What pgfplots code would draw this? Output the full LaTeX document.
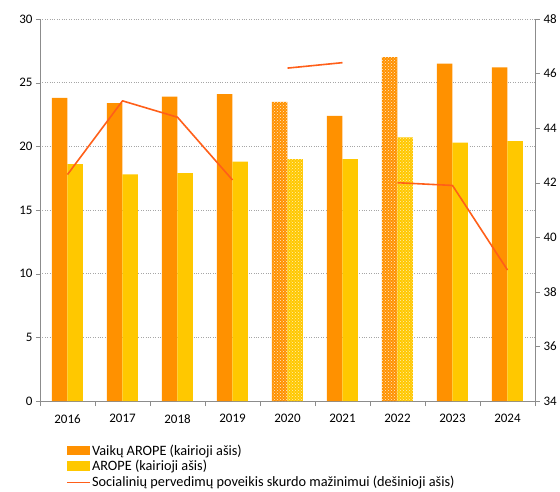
\documentclass[border=0pt]{standalone}
\usepackage{pgfplots}
\pgfplotsset{compat=1.18}
\usepackage{fontspec}
\setmainfont{Carlito}
\usetikzlibrary{patterns}

\definecolor{cOrange}{RGB}{255,145,0}
\definecolor{cYellow}{RGB}{255,200,0}
\definecolor{cLine}{RGB}{255,95,25}
\definecolor{cAxis}{RGB}{140,140,140}

\newcommand{\lblfont}{\fontsize{13}{15}\selectfont}
\newcommand{\legfont}{\fontsize{14.3}{16}\selectfont}
\pgfplotsset{/pgf/number format/assume math mode=true}

\begin{document}
\begin{tikzpicture}
\begin{axis}[
    scale only axis, width=495pt, height=382pt,
    xmin=-0.5, xmax=8.5, ymin=0, ymax=30,
    ytick={0,5,...,30},
    xtick={0,...,8},
    xticklabels={2016,2017,2018,2019,2020,2021,2022,2023,2024},
    minor xtick={-0.5,0.5,...,8.5},
    axis x line*=bottom, axis y line*=left,
    axis line style={cAxis,-},
    tick align=outside,
    major x tick style={draw=none},
    minor x tick style={cAxis},
    y tick style={cAxis},
    major tick length=4pt, minor tick length=5pt,
    ymajorgrids, grid style={dotted, gray!70},
    tick label style={font=\lblfont},
    xticklabel style={yshift=-6pt},
    ybar, bar width=15.5pt,
    legend cell align=left,
    legend style={at={(0.047,-0.103)}, anchor=north west, draw=none, fill=none,
        font=\legfont, row sep=0pt, nodes={inner xsep=1pt}},
]
\addplot[fill=cOrange, draw=none, bar shift=-7.75pt,
    legend image code/.code={\fill[cOrange] (0pt,-4.5pt) rectangle (23pt,5pt);}]
    coordinates {(0,23.8) (1,23.4) (2,23.9) (3,24.1) (5,22.4) (7,26.5) (8,26.2)};
\addlegendentry{Vaikų AROPE (kairioji ašis)}
\addplot[fill=cYellow, draw=none, bar shift=7.75pt,
    legend image code/.code={\fill[cYellow] (0pt,-4.5pt) rectangle (23pt,5pt);}]
    coordinates {(0,18.6) (1,17.8) (2,17.9) (3,18.8) (5,19.0) (7,20.3) (8,20.4)};
\addlegendentry{AROPE (kairioji ašis)}
% 2020 and 2022 drawn with a dotted fill
\addplot[forget plot, fill=cOrange, draw=none, bar shift=-7.75pt,
    postaction={pattern=crosshatch dots, pattern color=white!80!cOrange}]
    coordinates {(4,23.5) (6,27.0)};
\addplot[forget plot, fill=cYellow, draw=none, bar shift=7.75pt,
    postaction={pattern=crosshatch dots, pattern color=white!70!cYellow}]
    coordinates {(4,19.0) (6,20.7)};
\addlegendimage{cLine, line width=1.6pt,
    legend image code/.code={\draw[cLine, line width=1.6pt] (0pt,0pt) -- (23pt,0pt);}}
\addlegendentry{Socialinių pervedimų poveikis skurdo mažinimui (dešinioji ašis)}
\end{axis}

\begin{axis}[
    scale only axis, width=495pt, height=382pt,
    xmin=-0.5, xmax=8.5, ymin=34, ymax=48,
    ytick={34,36,...,48},
    axis y line*=right, axis x line=none,
    axis line style={cAxis,-},
    tick align=outside,
    y tick style={cAxis},
    major tick length=5pt,
    tick label style={font=\lblfont},
]
\addplot[cLine, line width=1.6pt, line join=round, mark=none]
    coordinates {(0,42.3) (1,45.0) (2,44.4) (3,42.1)};
\addplot[cLine, line width=1.6pt, line join=round, mark=none]
    coordinates {(4,46.2) (5,46.4)};
\addplot[cLine, line width=1.6pt, line join=round, mark=none]
    coordinates {(6,42.0) (7,41.9) (8,38.8)};
\end{axis}
\pgfresetboundingbox
\path (-40pt,-90pt) rectangle (520pt,401pt);
\end{tikzpicture}
\end{document}
